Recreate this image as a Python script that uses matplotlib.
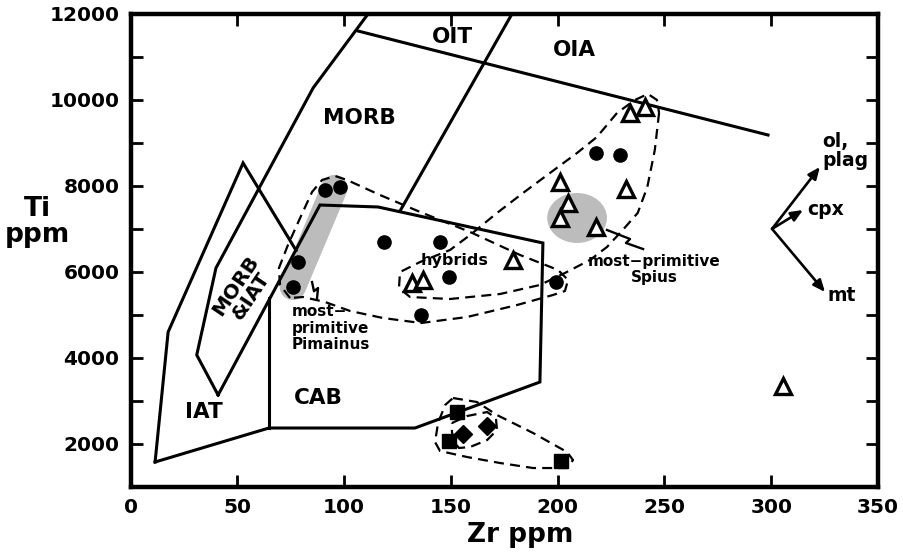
import matplotlib
matplotlib.use('Agg')
import matplotlib.pyplot as plt
from matplotlib.patches import Ellipse
from matplotlib.ticker import MultipleLocator

plt.rcParams['font.family'] = 'DejaVu Sans'
plt.rcParams['font.weight'] = 'bold'

# --- samples (Zr ppm, Ti ppm) ---
circle_zr = [91, 98, 78.5, 76, 118.5, 145, 149, 199, 136, 218, 229]
circle_ti = [7900, 7975, 6230, 5650, 6700, 6700, 5880, 5760, 5000, 8770, 8720]

tri_zr = [234, 241, 201, 232, 205, 201, 218, 132, 137, 179, 305.5]
tri_ti = [9700, 9830, 8090, 7930, 7600, 7250, 7040, 5740, 5810, 6270, 3340]

sq_zr = [153, 149, 201.5]
sq_ti = [2740, 2060, 1600]

dia_zr = [155.5, 167]
dia_ti = [2230, 2410]

# --- discrimination field boundaries ---
iat_zr = [11.5, 17.6, 52.7, 77.5]
iat_ti = [1575, 4600, 8533, 6500]
morb_zr = [41, 31, 40, 85.5, 111.2]
morb_ti = [3134, 4065, 6089, 10278, 12000]
cab_zr = [41, 88.7, 115.9, 193.1, 191.7, 133.2, 64.8, 11.5]
cab_ti = [3134, 7555, 7509, 6671, 3436, 2366, 2366, 1575]
cab_left_zr = [64.8, 64.8]
cab_left_ti = [5380, 2366]
oit_zr = [126.2, 178.6]
oit_ti = [7416, 12000]
oia_zr = [106.5, 298.5]
oia_ti = [11604, 9184]

# --- dashed envelopes ---
spius_zr = [247.5, 245.5, 242, 237.5, 230.5, 223.1, 215.1, 203.4, 191.7, 173, 149.6,
            130.9, 125.7, 126.2, 135.6, 149.6, 159, 171.6, 183.8, 196.4, 209.1, 218.4,
            227.8, 236.2, 242.3, 246.5, 247.5]
spius_ti = [9700, 8835, 7975, 7370, 6975, 6578, 6275, 5973, 5694, 5484, 5368,
            5414, 5624, 5996, 6229, 6508, 6857, 7369, 7835, 8300, 8766, 9138,
            9697, 9999, 10139, 9999, 9700]
pim_zr = [74.7, 70, 69.5, 73.7, 79.4, 85, 89.7, 95.8, 101.4, 116.8, 135.6, 159, 182.4,
          200.2, 204.9, 203.4, 197.8, 181, 157.6, 136, 118.2, 102.8, 91.1, 80.8, 74.7]
pim_ti = [5391, 5694, 6090, 6624, 7253, 7858, 8137, 8230, 8137, 7788, 7393, 6927, 6392,
          6043, 5810, 5554, 5461, 5228, 4949, 4809, 4926, 5089, 5298, 5414, 5391]
sqenv_zr = [151, 162.2, 171.6, 188.5, 204.4, 207.2, 204.4, 188.5, 173, 157.6, 144.9,
            142.6, 144, 147.3, 151]
sqenv_ti = [3064, 2971, 2668, 2250, 1807, 1621, 1435, 1435, 1552, 1691, 1831,
            2040, 2482, 2901, 3064]
diaenv_zr = [150.5, 157.6, 167, 171.1, 171.6, 167, 159, 153.8, 151.5, 150.5, 150.5]
diaenv_ti = [2482, 2645, 2738, 2599, 2319, 2087, 1924, 1901, 2040, 2273, 2482]

# shaded "most-primitive" areas
pim_shade_zr = [95.5, 76.0]
pim_shade_ti = [7950, 5650]
spius_shade = (209.1, 7253, 28, 1163)  # centre zr, centre ti, width, height

# fractionation vectors
vec_origin = (300.4, 7000)
vec_tips = {'ol': (322.8, 8440), 'cpx': (314.9, 7439), 'mt': (325.2, 5531)}

# little zig-zag pointers
zig_spius_zr = [223.1, 233.9, 232.0, 240.0]
zig_spius_ti = [6974, 6764, 6671, 6531]
zig_pim_zr = [85.0, 85.9, 87.8, 87.3]
zig_pim_ti = [5763, 5549, 5624, 5368]

fig = plt.figure(figsize=(9.04, 5.59), dpi=100)
ax = fig.add_axes([0.1444, 0.1293, 0.8268, 0.8457])

# shading
shade = '#bcbcbc'
ax.plot(pim_shade_zr, pim_shade_ti, color=shade, lw=19, solid_capstyle='round', zorder=1)
ax.add_patch(Ellipse(spius_shade[:2], spius_shade[2], spius_shade[3],
                     facecolor=shade, edgecolor='none', zorder=1))

# field boundaries
for xs, ys in [(iat_zr, iat_ti), (morb_zr, morb_ti), (cab_zr, cab_ti),
               (cab_left_zr, cab_left_ti), (oit_zr, oit_ti), (oia_zr, oia_ti)]:
    ax.plot(xs, ys, color='black', lw=2.2, zorder=2, solid_joinstyle='miter')

# envelopes
for xs, ys in [(spius_zr, spius_ti), (pim_zr, pim_ti), (sqenv_zr, sqenv_ti),
               (diaenv_zr, diaenv_ti)]:
    ax.plot(xs, ys, color='black', lw=1.6, ls=(0, (4.5, 2.8)), zorder=3)

ax.plot(zig_spius_zr, zig_spius_ti, color='black', lw=1.7, zorder=3)
ax.plot(zig_pim_zr, zig_pim_ti, color='black', lw=1.7, zorder=3)

# samples
ax.plot(circle_zr, circle_ti, 'o', color='black', ms=9.5, zorder=5)
ax.plot(tri_zr, tri_ti, '^', mfc='white', mec='black', mew=2.4, ms=11.5, zorder=5)
ax.plot(sq_zr, sq_ti, 's', color='black', ms=10, zorder=5)
ax.plot(dia_zr, dia_ti, 'D', color='black', ms=9.5, zorder=5)

# vectors
for tip in vec_tips.values():
    ax.annotate('', xy=tip, xytext=vec_origin,
                arrowprops=dict(arrowstyle='-|>,head_length=0.7,head_width=0.3',
                                color='black', lw=1.9, shrinkA=0, shrinkB=0))

# labels
fs_field = 15.5
ax.text(150.7, 11465, 'OIT', fontsize=fs_field, ha='center', va='center')
ax.text(207.8, 11163, 'OIA', fontsize=fs_field, ha='center', va='center')
ax.text(107, 9580, 'MORB', fontsize=fs_field, ha='center', va='center')
ax.text(52.8, 5561, 'MORB\n&IAT', fontsize=14.5, ha='center', va='center',
        rotation=56, linespacing=0.95)
ax.text(34.4, 2738, 'IAT', fontsize=fs_field, ha='center', va='center')
ax.text(87.8, 3064, 'CAB', fontsize=fs_field, ha='center', va='center')
ax.text(151.5, 6275, 'hybrids', fontsize=11.5, ha='center', va='center')
ax.text(75.6, 4693, 'most−\nprimitive\nPimainus', fontsize=11, ha='left', va='center',
        linespacing=1.15)
ax.text(245.1, 6054, 'most−primitive\nSpius', fontsize=11, ha='center', va='center',
        linespacing=1.05)
ax.text(323.8, 8812, 'ol,\nplag', fontsize=13.5, ha='left', va='center', linespacing=1.0)
ax.text(316.8, 7439, 'cpx', fontsize=13.5, ha='left', va='center')
ax.text(326.6, 5461, 'mt', fontsize=13.5, ha='left', va='center')

ax.set_xlim(0, 350)
ax.set_ylim(1000, 12000)
ax.xaxis.set_major_locator(MultipleLocator(50))
ax.yaxis.set_major_locator(MultipleLocator(2000))
ax.yaxis.set_minor_locator(MultipleLocator(1000))
ax.tick_params(which='both', direction='in', length=8.5, width=2.0,
               top=True, right=True, labelsize=14.5, pad=8)
for lab in ax.get_xticklabels() + ax.get_yticklabels():
    lab.set_fontweight('bold')
for sp in ax.spines.values():
    sp.set_linewidth(3.2)

ax.set_xlabel('Zr ppm', fontsize=19, fontweight='bold')
ax.xaxis.set_label_coords((520 - 130.5) / 747.5, -0.075)
ax.set_ylabel('Ti\nppm', fontsize=19, fontweight='bold', rotation=0,
              ha='center', va='center', linespacing=1.0)
ax.yaxis.set_label_coords((37 - 130.5) / 747.5, (486.7 - 222) / 472.7)

fig.savefig('out.png', dpi=100)
